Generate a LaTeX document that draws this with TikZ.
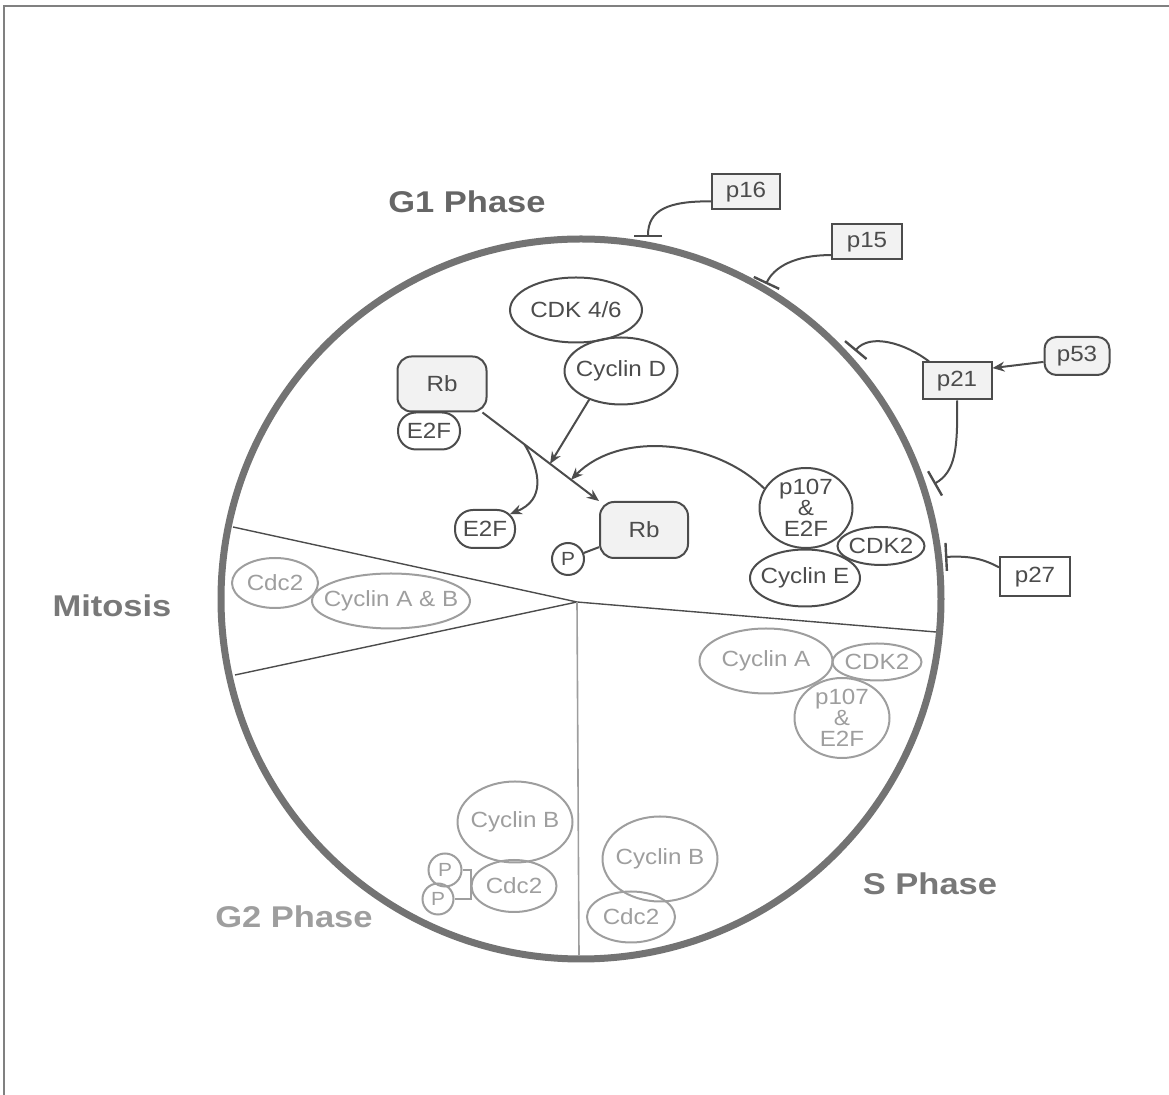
\documentclass[tikz,border=0pt]{standalone}
\usepackage{fontspec}
\setmainfont[FakeStretch=1.1]{Liberation Sans}
\newfontfamily\phasefont[FakeStretch=1.15]{Liberation Sans}
\usetikzlibrary{shapes.geometric,arrows.meta}

\definecolor{inkdark}{gray}{0.30}
\definecolor{inkpale}{gray}{0.62}
\definecolor{wallgray}{gray}{0.45}
\definecolor{boxfill}{gray}{0.95}

\tikzstyle{mol} = [ellipse, draw=inkdark, text=inkdark, line width=1pt, inner xsep=-8pt, inner ysep=-4pt, align=center, font=\fontsize{11}{10.5}\selectfont]
\tikzstyle{pale} = [mol, draw=inkpale, text=inkpale]
\tikzstyle{pocket} = [rectangle, rounded corners=7pt, draw=inkdark, text=inkdark, line width=1pt, font=\fontsize{11}{12}\selectfont]
\tikzstyle{phos} = [circle, draw=inkdark, text=inkdark, line width=1pt, inner sep=0pt, font=\fontsize{9.5}{11}\selectfont]
\tikzstyle{ckibox} = [rectangle, draw=inkdark, fill=boxfill, text=inkdark, line width=1pt, font=\fontsize{11}{12}\selectfont]
\tikzstyle{phase} = [font=\phasefont\bfseries\fontsize{15}{18}\selectfont]
\tikzstyle{act} = [draw=inkdark, line width=1pt, -{Stealth[length=6pt,width=5pt]}]
\tikzstyle{block} = [draw=inkdark, line width=1pt, -{Bar[width=14pt,line width=1.2pt]}]

\begin{document}
\begin{tikzpicture}[x=0.5pt, y=-0.5pt]
\useasboundingbox (0,0) rectangle (1169,1095);
%frame
\draw[gray, line width=1pt] (1169,6) -- (4,6) -- (4,1095);

%begin dividers
\coordinate (hub) at (577,602);
\coordinate (rimmtop) at (233,527);
\coordinate (rimmbot) at (235,675);
\coordinate (rimg1s) at (936,632);
\coordinate (rimg2s) at (579,955);
\draw[inkdark, line width=0.7pt] (rimmtop) -- (hub) -- (rimg1s);
\draw[inkdark, line width=0.7pt] (hub) -- (rimmbot);
\draw[inkpale, line width=0.8pt] (hub) -- (rimg2s);
%end dividers

%cell cycle wheel
\draw[wallgray, line width=3.5pt] (581,599) circle [radius=180pt];

%begin phase labels
\node[phase, text=gray!100!white, text=black!60] (g1lbl) at (467,202) {G1 Phase};
\node[phase, text=black!53] (mlbl) at (112,606) {Mitosis};
\node[phase, text=black!38] (g2lbl) at (294,917) {G2 Phase};
\node[phase, text=black!53] (slbl) at (930,884) {S Phase};
%end phase labels

%begin G1
\node[mol, minimum width=66pt, minimum height=32.5pt] (cdk46) at (576,310) {CDK 4/6};
\node[mol, minimum width=56.5pt, minimum height=33.5pt] (cycd) at (621,371) {Cyclin D};
\node[pocket, fill=boxfill, minimum width=44.5pt, minimum height=27.5pt] (rbbound) at (442,384) {Rb};
\node[pocket, rounded corners=9pt, minimum width=31pt, minimum height=18.5pt] (e2fbound) at (429,431) {E2F};
\node[pocket, rounded corners=9pt, minimum width=30pt, minimum height=19pt] (e2ffree) at (485,529) {E2F};
\node[pocket, fill=boxfill, minimum width=44pt, minimum height=28pt] (rbphos) at (644,530) {Rb};
\node[phos, minimum size=16pt] (pg1) at (568,559) {P};
\node[mol, minimum width=46.5pt, minimum height=40pt] (p107e) at (806,508) {p107\\\&\\E2F};
\node[mol, minimum width=43.5pt, minimum height=19pt] (cdk2e) at (881,546) {CDK2};
\node[mol, minimum width=55pt, minimum height=28.5pt] (cyce) at (805,578) {Cyclin E};
\draw[inkdark, line width=1pt] (pg1) -- (rbphos);
%end G1

%begin G1 arrows
\path ([xshift=-2.5pt]rbbound.south east) -- (rbphos.north west)
    coordinate[pos=0.36] (forke2f) coordinate[pos=0.58] (hitd) coordinate[pos=0.76] (hitp);
\draw[act] ([xshift=-2.5pt]rbbound.south east) -- (rbphos.north west);
\draw[act] (cycd.222) -- (hitd);
\draw[act] (forke2f) .. controls (541,472) and (545,500) .. ([shift={(-3pt,-2.5pt)}]e2ffree.north east);
\draw[act] (p107e.155) .. controls (715,440) and (620,430) .. (hitp);
%end G1 arrows

%begin inhibitors
\node[ckibox, minimum width=34pt, minimum height=17.5pt] (p16) at (746,192) {p16};
\node[ckibox, minimum width=35pt, minimum height=17.5pt] (p15) at (867,242) {p15};
\node[ckibox, rounded corners=6pt, minimum width=32.5pt, minimum height=19pt] (p53) at (1077,356) {p53};
\node[ckibox, minimum width=34.5pt, minimum height=18.5pt] (p21) at (957,381) {p21};
\node[ckibox, fill=white, minimum width=35pt, minimum height=19.5pt] (p27) at (1035,577) {p27};
\coordinate (hit16) at (648,237);
\coordinate (hit15) at (766,284);
\coordinate (hit21a) at (855,351);
\coordinate (hit21b) at (934,484);
\coordinate (hit27) at (945,557);
\draw[block] (p16.195) .. controls (668,201) and (648,210) .. (hit16);
\draw[block] (p15.200) .. controls (795,255) and (774,267) .. (hit15);
\draw[block] (p21.145) .. controls (905,343) and (870,333) .. (hit21a);
\draw[block] (p21.south) .. controls (958,450) and (955,472) .. (hit21b);
\draw[block] (p27.165) .. controls (980,557) and (965,556) .. (hit27);
\draw[act] (p53.190) -- (p21.20);
%end inhibitors

%begin mitosis
\node[pale, minimum width=43pt, minimum height=25pt] (cdc2m) at (275,583) {Cdc2};
\node[pale, minimum width=79pt, minimum height=27.5pt] (cycabm) at (391,601) {Cyclin A \& B};
%end mitosis

%begin S
\node[pale, minimum width=66.5pt, minimum height=32.5pt] (cycas) at (766,661) {Cyclin A};
\node[pale, minimum width=44.5pt, minimum height=18.5pt] (cdk2s) at (877,662) {CDK2};
\node[pale, minimum width=47.5pt, minimum height=40pt] (p107s) at (842,718) {p107\\\&\\E2F};
\node[pale, minimum width=57.5pt, minimum height=42.5pt] (cycbs) at (660,859) {Cyclin B};
\node[pale, minimum width=44pt, minimum height=25.5pt] (cdc2s) at (631,917) {Cdc2};
%end S

%begin G2
\node[pale, minimum width=57.5pt, minimum height=40.5pt] (cycbg) at (515,822) {Cyclin B};
\node[pale, minimum width=42.5pt, minimum height=26pt] (cdc2g) at (514,886) {Cdc2};
\node[phos, draw=inkpale, text=inkpale, minimum size=16.5pt] (pga) at (445,870) {P};
\node[phos, draw=inkpale, text=inkpale, minimum size=15.5pt] (pgb) at (438,899) {P};
\draw[inkpale, line width=1pt] (pga.east) -- (pga -| cdc2g.west) -- (pgb -| cdc2g.west) -- (pgb.east);
%end G2
\end{tikzpicture}
\end{document}
